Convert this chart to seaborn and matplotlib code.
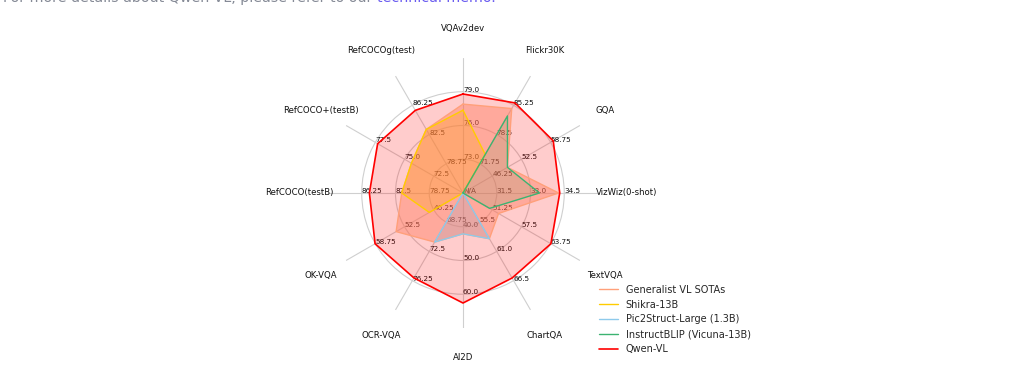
import numpy as np
import matplotlib
matplotlib.use("Agg")
import matplotlib.pyplot as plt
import seaborn as sns

#%% data ##########################################################################
categories = ['VQAv2dev', 'Flickr30K', 'GQA', 'VizWiz(0-shot)', 'TextVQA', 'ChartQA',
              'AI2D', 'OCR-VQA', 'OK-VQA', 'RefCOCO(testB)', 'RefCOCO+(testB)', 'RefCOCOg(test)']

# value at the centre of each axis and one grid step (ticks are at 1, 2, 3 steps)
axis_base = [70.0, 65.0, 40.0, 30.0, 45.0, 50.0, 30.0, 65.0, 40.0, 75.0, 70.0, 75.0]
axis_step = [3.0, 6.75, 6.25, 1.5, 6.25, 5.5, 10.0, 3.75, 6.25, 3.75, 2.5, 3.75]

# None = N/A (drawn at the centre)
generalist = [77.9, 84.5, 49.5, 34.25, 52.6, 58.6, 42.1, 71.3, 54.3, 81.81, 74.41, 83.16]
shikra = [77.36, 73.9, None, None, None, None, None, None, 47.2, 81.81, 74.41, 83.16]
pix2struct = [None, None, None, None, None, 58.6, 42.1, 71.3, None, None, None, None]
instructblip = [None, 82.8, 49.5, 33.4, 50.7, None, None, None, None, None, None, None]
qwen = [78.8, 85.8, 59.3, 34.3, 63.8, 66.0, 62.6, 75.9, 58.8, 85.4, 77.3, 85.6]

series_names = ['Generalist VL SOTAs', 'Shikra-13B', 'Pic2Struct-Large (1.3B)',
                'InstructBLIP (Vicuna-13B)', 'Qwen-VL']
series_values = [generalist, shikra, pix2struct, instructblip, qwen]
series_colors = ['#FFA07A', '#FFCC00', '#8ECAEB', '#3CB371', '#FF0000']
series_alpha = [0.45, 0.25, 0.25, 0.15, 0.2]
series_lw = [1.0, 1.0, 1.0, 1.0, 1.2]

#%% helpers
def to_radius(vals):
    return [0.0 if v is None else (v - b) / s for v, b, s in zip(vals, axis_base, axis_step)]

sns.set_theme(style='white')
plt.rcParams['font.family'] = ['DejaVu Sans']

n = len(categories)
angles = np.linspace(0, 2 * np.pi, n, endpoint=False)
angles_closed = np.append(angles, angles[0])

fig = plt.figure(figsize=(10.17, 3.78), dpi=100)
ax = fig.add_axes([0.3225, 0.1323, 0.2655, 0.7143], polar=True)
ax.set_theta_offset(np.pi / 2)
ax.set_theta_direction(-1)
ax.set_ylim(0, 4)
ax.set_yticks([1, 2, 3])
ax.set_yticklabels([])
ax.set_xticks(angles)
ax.set_xticklabels([])
ax.grid(color='#cfcfcf', linewidth=0.8)
ax.spines['polar'].set_visible(False)
ax.set_facecolor('white')

# per-axis tick labels (drawn under the fills)
for i, ang in enumerate(angles):
    for k in (1, 2, 3):
        tick = round(axis_base[i] + k * axis_step[i], 2)
        ax.text(ang, k, str(tick), ha='left', va='baseline', fontsize=5.2,
                color='#111111', zorder=1)
    ax.text(ang, 4.86, categories[i], ha='center', va='center', fontsize=6.1,
            color='#111111')
ax.text(0, 0, 'N/A', ha='left', va='baseline', fontsize=5.2, color='#111111', zorder=1)

# polygons
for name, vals, col, a, lw in zip(series_names, series_values, series_colors,
                                  series_alpha, series_lw):
    r = to_radius(vals)
    r_closed = np.append(r, r[0])
    ax.fill(angles_closed, r_closed, color=col, alpha=a, zorder=2, linewidth=0)
    sns.lineplot(x=angles_closed, y=r_closed, ax=ax, sort=False, estimator=None,
                 color=col, linewidth=lw, label=name, zorder=3)

ax.set_xlabel('')
ax.set_ylabel('')
ax.legend(loc='upper left', bbox_to_anchor=(0.58, 0.27), bbox_transform=fig.transFigure,
          frameon=False, fontsize=7, handlelength=2.0)

# page text cut off at the top of the screenshot
head = fig.text(0.003, 0.996, 'For more details about Qwen-VL, please refer to our ',
                ha='left', va='baseline', fontsize=10.3, color='#858a96')
fig.canvas.draw()
bb = head.get_window_extent().transformed(fig.transFigure.inverted())
fig.text(bb.x1, 0.996, 'technical memo.', ha='left', va='baseline', fontsize=10.3,
         color='#6a5cf0')

fig.savefig('out.png', dpi=100)
